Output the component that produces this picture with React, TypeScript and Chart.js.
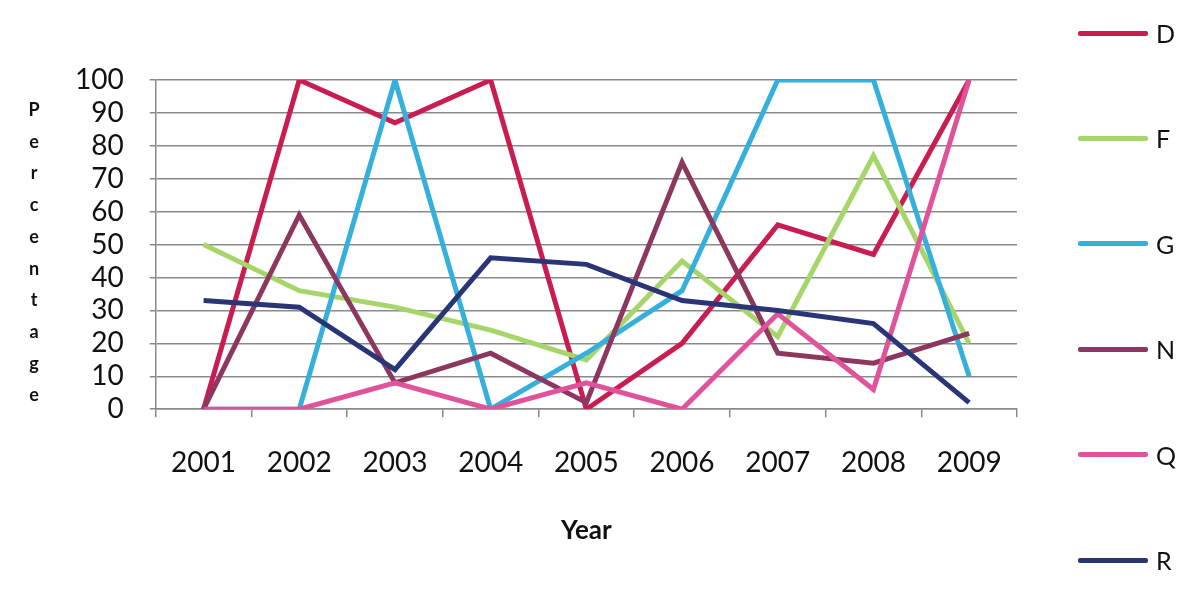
import React, { useEffect, useRef } from "react";
import { Chart, registerables } from "chart.js";
Chart.register(...registerables);

const years = ["2001", "2002", "2003", "2004", "2005", "2006", "2007", "2008", "2009"];
const seriesD = [0, 100, 87, 100, 0, 20, 56, 47, 100];
const seriesF = [50, 36, 31, 24, 15, 45, 22, 77, 20];
const seriesG = [0, 0, 100, 0, 17, 36, 100, 100, 10];
const seriesN = [0, 59, 8, 17, 2, 75, 17, 14, 23];
const seriesQ = [0, 0, 8, 0, 8, 0, 29, 6, 100];
const seriesR = [33, 31, 12, 46, 44, 33, 30, 26, 2];
const seriesNames = ["D", "F", "G", "N", "Q", "R"];
const seriesColors = ["#c91d52", "#a6d66a", "#35afdb", "#8c3760", "#e0529a", "#2a3578"];
const yTickMin = 0;
const yTickMax = 100;
const yTickStep = 10;
const yTitle = "Percentage";
const xTitle = "Year";

const FONT = "Lato, 'Open Sans', sans-serif";

export default function App() {
  const ref = useRef<HTMLCanvasElement | null>(null);
  useEffect(() => {
    document.body.style.margin = "0";
    const values = [seriesD, seriesF, seriesG, seriesN, seriesQ, seriesR];
    const chart = new Chart(ref.current as HTMLCanvasElement, {
      type: "line",
      data: {
        labels: years,
        datasets: values.map((v, i) => ({
          label: seriesNames[i],
          data: v,
          borderColor: seriesColors[i],
          backgroundColor: seriesColors[i],
          borderWidth: 5,
          pointRadius: 0,
          tension: 0,
          fill: false,
          order: values.length - i,
        })),
      },
      options: {
        animation: false,
        responsive: false,
        layout: { padding: { left: 49, right: 183, top: 80, bottom: 52 } },
        plugins: { legend: { display: false }, tooltip: { enabled: false } },
        scales: {
          x: {
            offset: true,
            grid: {
              offset: true,
              drawOnChartArea: false,
              drawTicks: true,
              tickLength: 8,
              color: "#8a8a8a",
              lineWidth: 1.5,
            },
            border: { color: "#8a8a8a", width: 1.5 },
            ticks: { color: "#111", font: { family: FONT, size: 28 }, padding: 29, maxRotation: 0, autoSkip: false },
            title: {
              display: true,
              text: xTitle,
              color: "#111",
              font: { family: FONT, size: 26, weight: "bold" },
              padding: { top: 6, bottom: 0 },
            },
          },
          y: {
            min: yTickMin,
            max: yTickMax,
            ticks: { stepSize: yTickStep, autoSkip: false, color: "#111", font: { family: FONT, size: 28 }, padding: 26 },
            grid: { color: "#8a8a8a", lineWidth: 1.5, tickLength: 6 },
            border: { color: "#8a8a8a", width: 1.5 },
          },
        },
      },
    });
    return () => chart.destroy();
  }, []);

  return (
    <div style={{ position: "relative", width: 1200, height: 598, background: "#fff", fontFamily: FONT }}>
      <canvas ref={ref} width={1200} height={598} style={{ display: "block" }} />
      <div
        style={{
          position: "absolute",
          left: 22,
          top: 94,
          width: 24,
          textAlign: "center",
          fontWeight: "bold",
          fontSize: 18,
          lineHeight: "31.7px",
          color: "#111",
        }}
      >
        {yTitle.split("").map((c, i) => (
          <div key={i}>{c}</div>
        ))}
      </div>
      {seriesNames.map((n, i) => (
        <div
          key={n}
          style={{
            position: "absolute",
            left: 1078,
            top: 33 + i * 105.4 - 15,
            height: 30,
            display: "flex",
            alignItems: "center",
          }}
        >
          <div style={{ width: 70, height: 5, borderRadius: 2, background: seriesColors[i] }} />
          <span style={{ marginLeft: 8, fontSize: 25, color: "#111" }}>{n}</span>
        </div>
      ))}
    </div>
  );
}
